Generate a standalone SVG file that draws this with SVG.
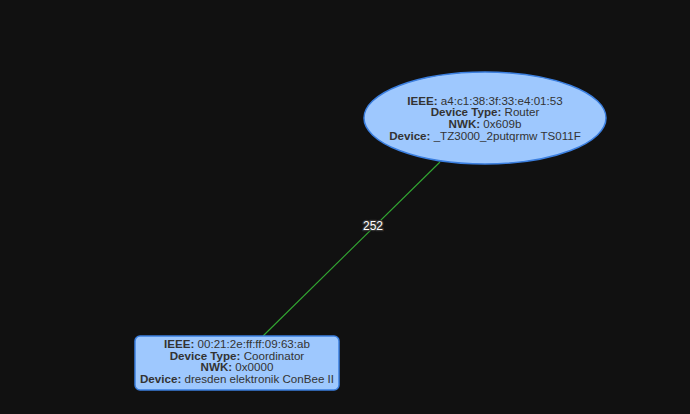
<svg xmlns="http://www.w3.org/2000/svg" width="690" height="414" viewBox="0 0 690 414">
<style>
.node{fill:#9ec8fe;stroke:#3b7fe0;stroke-width:1.5}
.t{font-family:"Liberation Sans",Arial,sans-serif;font-size:11.6px;fill:#333;text-anchor:middle}
.t tspan.b{font-weight:bold}
.edge{stroke:#32a832;stroke-width:1.1}
.lbl{font-family:"Liberation Sans",Arial,sans-serif;font-size:12px;fill:#fff;stroke:#333;stroke-width:2.5;paint-order:stroke;text-anchor:middle}
</style>
<rect width="690" height="414" fill="#111111"/>
<g id="connectors">
<line class="edge" x1="440" y1="162" x2="263" y2="336"/>
<text class="lbl" x="373" y="230">252</text>
</g>
<g id="router">
<ellipse class="node" cx="485" cy="118" rx="121" ry="46"/>
<text class="t" x="485" y="104.5"><tspan class="b">IEEE:</tspan> a4:c1:38:3f:33:e4:01:53</text>
<text class="t" x="485" y="116.2"><tspan class="b">Device Type:</tspan> Router</text>
<text class="t" x="485" y="127.9"><tspan class="b">NWK:</tspan> 0x609b</text>
<text class="t" x="485" y="139.6"><tspan class="b">Device:</tspan> _TZ3000_2putqrmw TS011F</text>
</g>
<g id="coordinator">
<rect class="node" x="135" y="336" width="204" height="54" rx="5"/>
<text class="t" x="237" y="348"><tspan class="b">IEEE:</tspan> 00:21:2e:ff:ff:09:63:ab</text>
<text class="t" x="237" y="359.7"><tspan class="b">Device Type:</tspan> Coordinator</text>
<text class="t" x="237" y="371.4"><tspan class="b">NWK:</tspan> 0x0000</text>
<text class="t" x="237" y="383.1"><tspan class="b">Device:</tspan> dresden elektronik ConBee II</text>
</g>
</svg>
